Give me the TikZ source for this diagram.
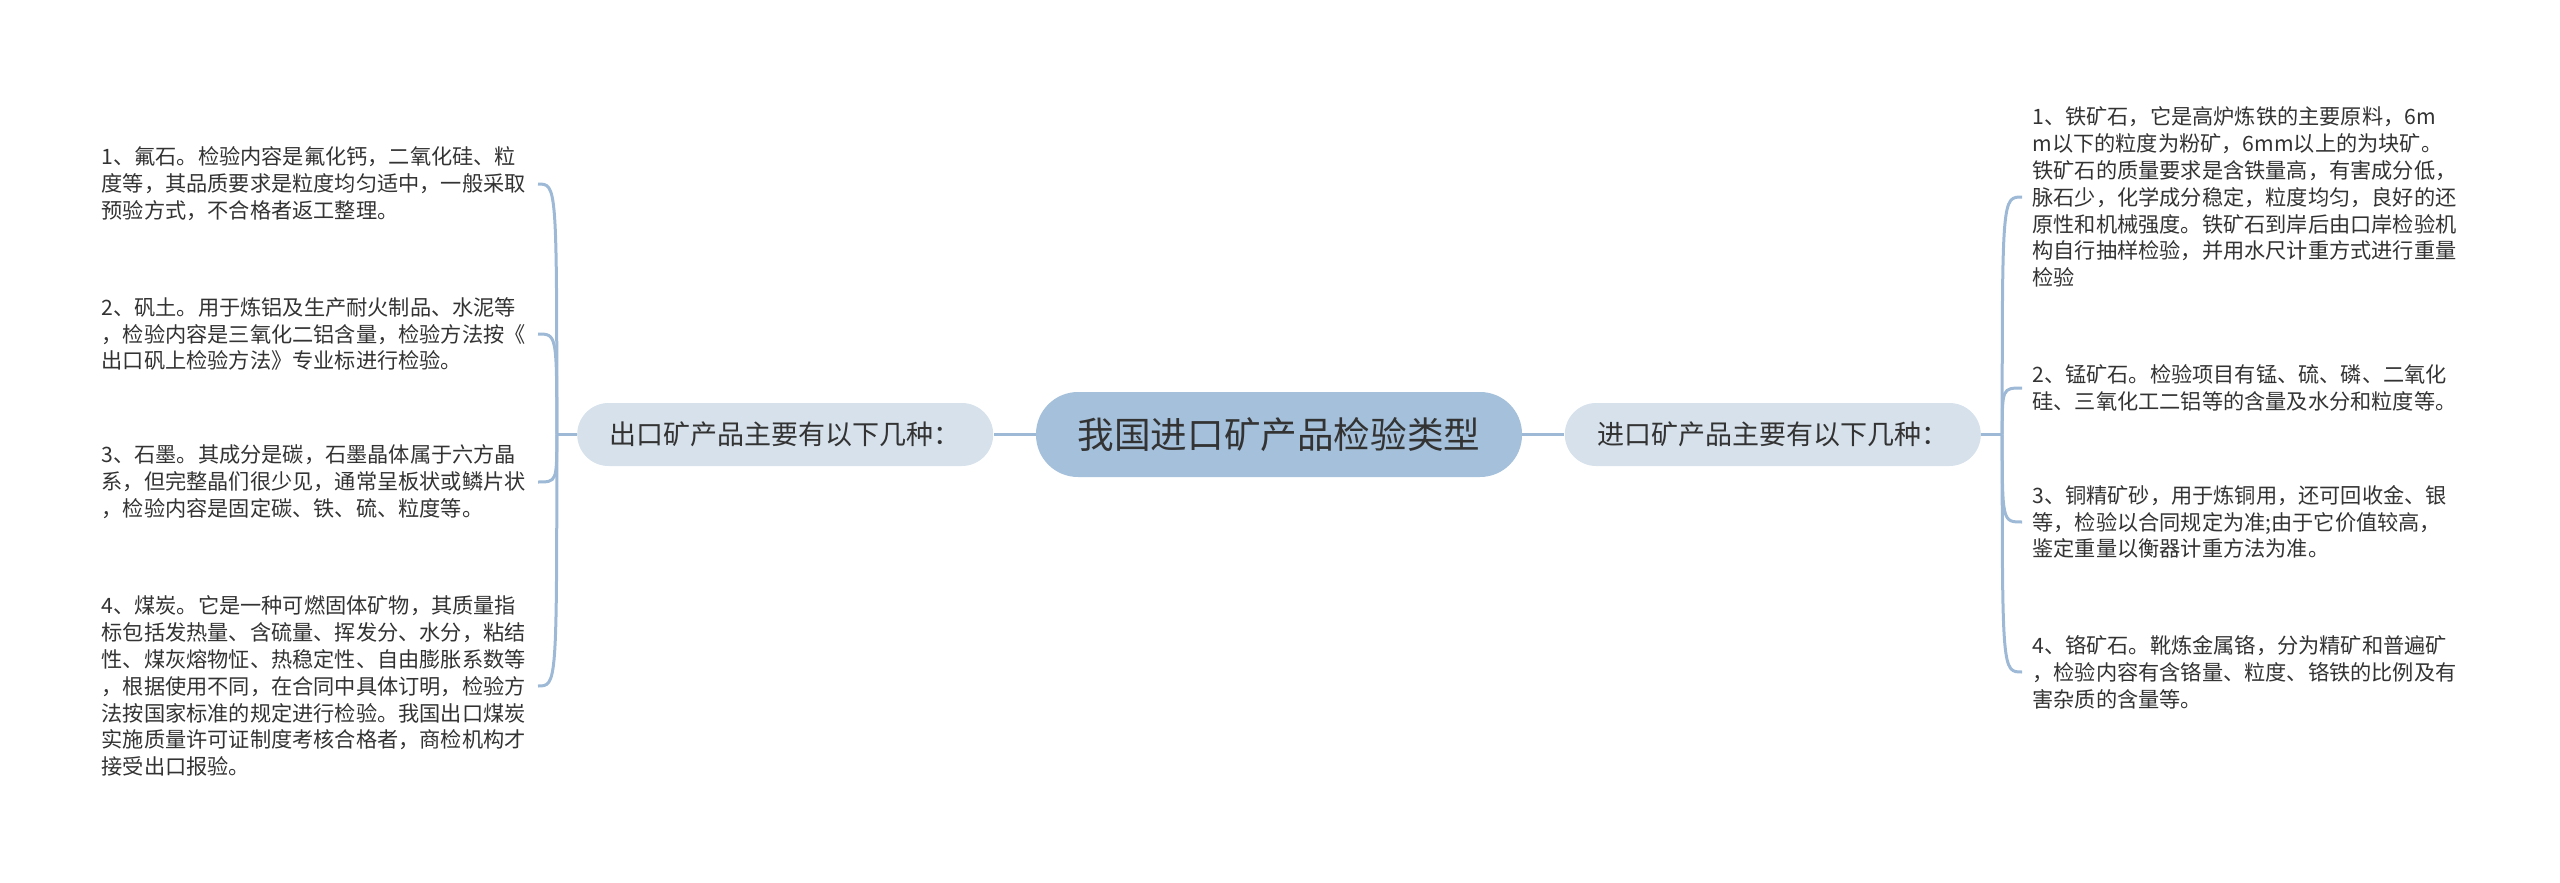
\documentclass[tikz,border=0pt]{standalone}
\usepackage{fontspec}
\setmainfont{Noto Sans CJK SC}
\usepackage{tikz}
\usetikzlibrary{positioning}
\usepackage{xcolor}
\definecolor{rootfill}{HTML}{A4C0DB}
\definecolor{subfill}{HTML}{D6E1EB}
\definecolor{wire}{HTML}{9DB9D6}
\definecolor{ink}{HTML}{333333}
\tikzset{
  rootnode/.style={fill=rootfill, rounded corners=21pt, inner sep=0pt,
    minimum width=243pt, minimum height=42.5pt, text=ink,
    font=\fontsize{18.3pt}{22pt}\selectfont},
  subnode/.style={fill=subfill, rounded corners=15.7pt, inner sep=0pt,
    minimum width=208pt, minimum height=31.5pt, text=ink,
    font=\fontsize{13.5pt}{16pt}\selectfont},
  leaf/.style={text width=213pt, align=left, inner xsep=5pt, inner ysep=2pt,
    text=ink, font=\fontsize{10.6pt}{13.45pt}\selectfont},
  branch/.style={draw=wire, line width=1.5pt}
}

\begin{document}
\begin{tikzpicture}[x=0.5pt, y=-0.5pt]
  \useasboundingbox (0,0) rectangle (2560,883);

  \node[rootnode] (root) at (1279,434.5) {我国进口矿产品检验类型};
  \node[subnode, left=21pt of root] (export) {出口矿产品主要有以下几种：};
  \node[subnode, right=21pt of root] (import) {进口矿产品主要有以下几种：};

  \coordinate (exj) at ([xshift=-10pt]export.west);
  \coordinate (imj) at ([xshift=10.5pt]import.east);

  % export side
  \node[leaf, anchor=east] (ex1) at (538,184) {1、氟石。检验内容是氟化钙，二氧化硅、粒\\
    度等，其品质要求是粒度均匀适中，一般采取\\
    预验方式，不合格者返工整理。};
  \node[leaf, anchor=east] (ex2) at (538,334) {2、矾土。用于炼铝及生产耐火制品、水泥等\\
    ，检验内容是三氧化二铝含量，检验方法按《\\
    出口矾上检验方法》专业标进行检验。};
  \node[leaf, anchor=east] (ex3) at (538,482) {3、石墨。其成分是碳，石墨晶体属于六方晶\\
    系，但完整晶们很少见，通常呈板状或鳞片状\\
    ，检验内容是固定碳、铁、硫、粒度等。};
  \node[leaf, anchor=east] (ex4) at (538,686) {4、煤炭。它是一种可燃固体矿物，其质量指\\
    标包括发热量、含硫量、挥发分、水分，粘结\\
    性、煤灰熔物怔、热稳定性、自由膨胀系数等\\
    ，根据使用不同，在合同中具体订明，检验方\\
    法按国家标准的规定进行检验。我国出口煤炭\\
    实施质量许可证制度考核合格者，商检机构才\\
    接受出口报验。};

  % import side
  \node[leaf, anchor=west] (im1) at (2022,197) {1、铁矿石，它是高炉炼铁的主要原料，6m\\
    m以下的粒度为粉矿，6mm以上的为块矿。\\
    铁矿石的质量要求是含铁量高，有害成分低，\\
    脉石少，化学成分稳定，粒度均匀，良好的还\\
    原性和机械强度。铁矿石到岸后由口岸检验机\\
    构自行抽样检验，并用水尺计重方式进行重量\\
    检验};
  \node[leaf, anchor=west] (im2) at (2022,388) {2、锰矿石。检验项目有锰、硫、磷、二氧化\\
    硅、三氧化工二铝等的含量及水分和粒度等。};
  \node[leaf, anchor=west] (im3) at (2022,522) {3、铜精矿砂，用于炼铜用，还可回收金、银\\
    等，检验以合同规定为准;由于它价值较高，\\
    鉴定重量以衡器计重方法为准。};
  \node[leaf, anchor=west] (im4) at (2022,672) {4、铬矿石。靴炼金属铬，分为精矿和普遍矿\\
    ，检验内容有含铬量、粒度、铬铁的比例及有\\
    害杂质的含量等。};

  \draw[branch] (root.west) -- (export.east);
  \draw[branch] (root.east) -- (import.west);
  \draw[branch] (export.west) -- (exj);
  \draw[branch] (import.east) -- (imj);
  \foreach \n in {ex1,ex2,ex3,ex4}
    \draw[branch] (exj) .. controls (exj |- \n.east) .. (\n.east);
  \foreach \n in {im1,im2,im3,im4}
    \draw[branch] (imj) .. controls (imj |- \n.west) .. (\n.west);
\end{tikzpicture}
\end{document}
